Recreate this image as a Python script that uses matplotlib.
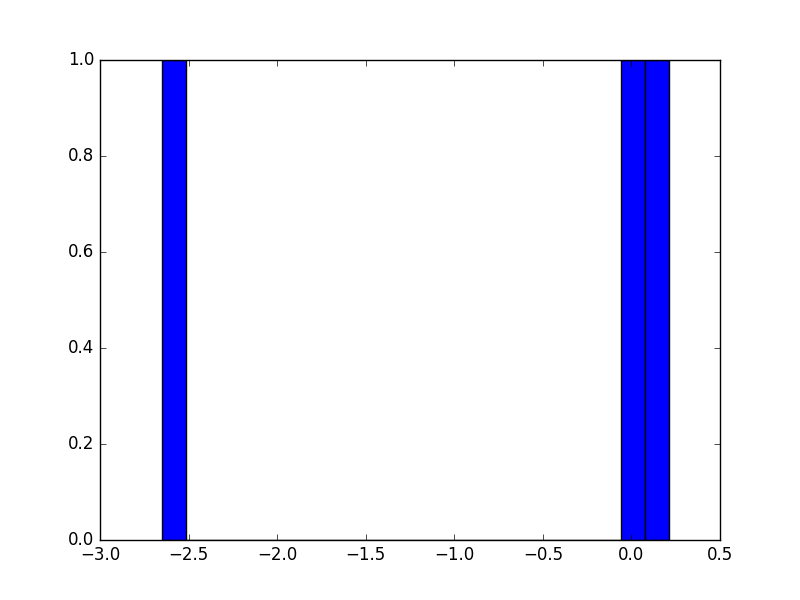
import matplotlib
matplotlib.use('Agg')
import matplotlib.pyplot as plt

# sample values
values = [-2.65, 0.0, 0.2126]
num_bins = 21

plt.style.use('classic')

fig = plt.figure(figsize=(8, 6))
ax = fig.add_subplot(111)
ax.hist(values, bins=num_bins, color='blue', edgecolor='black')
ax.set_xlim(-3.0, 0.5)
ax.set_ylim(0, 1)

fig.savefig('out.png', dpi=100)
